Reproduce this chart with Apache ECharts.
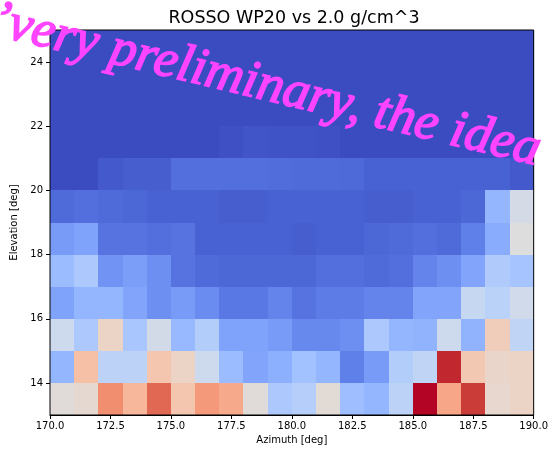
<!DOCTYPE html>
<html>
<head>
<meta charset="utf-8">
<script src="https://cdn.jsdelivr.net/npm/echarts@6/dist/echarts.min.js"></script>
<style>
html,body{margin:0;padding:0;background:#fff;}
#chart{width:551px;height:453px;}
</style>
</head>
<body>
<div id="chart"></div>
<script>
// Bin left edges (deg) and bin size
const azimuthBins = [170,171,172,173,174,175,176,177,178,179,180,181,182,183,184,185,186,187,188,189];
const elevationBins = [13,14,15,16,17,18,19,20,21,22,23,24];
const binWidth = 1;
const binHeight = 1;

// Tick labels
const azimuthTicks = [170, 172.5, 175, 177.5, 180, 182.5, 185, 187.5, 190];
const elevationTicks = [14, 16, 18, 20, 22, 24];

// Normalised cell values (0 = coolest, 1 = warmest), one array per elevation bin
const elev13 = [0.51,0.53,0.78,0.67,0.86,0.62,0.75,0.71,0.51,0.34,0.37,0.52,0.30,0.27,0.39,1.00,0.72,0.94,0.54,0.56];
const elev14 = [0.27,0.64,0.39,0.39,0.62,0.56,0.44,0.29,0.22,0.25,0.31,0.27,0.12,0.19,0.36,0.40,0.97,0.61,0.55,0.56];
const elev15 = [0.44,0.34,0.56,0.33,0.46,0.28,0.36,0.21,0.21,0.19,0.14,0.14,0.16,0.34,0.27,0.26,0.44,0.26,0.59,0.40];
const elev16 = [0.21,0.27,0.27,0.22,0.16,0.19,0.15,0.10,0.10,0.13,0.09,0.11,0.11,0.13,0.13,0.22,0.22,0.42,0.38,0.45];
const elev17 = [0.29,0.34,0.17,0.20,0.16,0.09,0.07,0.06,0.06,0.06,0.06,0.08,0.08,0.07,0.08,0.13,0.16,0.22,0.35,0.32];
const elev18 = [0.19,0.21,0.09,0.09,0.08,0.09,0.05,0.05,0.05,0.05,0.04,0.05,0.05,0.06,0.07,0.08,0.07,0.12,0.24,0.50];
const elev19 = [0.07,0.08,0.07,0.06,0.05,0.05,0.05,0.04,0.04,0.05,0.05,0.05,0.05,0.04,0.04,0.05,0.05,0.06,0.27,0.47];
const elev20 = [0.00,0.00,0.03,0.04,0.04,0.08,0.08,0.08,0.08,0.075,0.07,0.07,0.065,0.05,0.05,0.05,0.05,0.05,0.05,0.03];
const elev21 = [0,0,0,0,0,0,0,0.01,0.02,0.015,0.015,0.01,0,0,0,0,0,0,0,0];
const elev22 = [0,0,0,0,0,0,0,0,0,0,0,0,0,0,0,0,0,0,0,0];
const elev23 = [0,0,0,0,0,0,0,0,0,0,0,0,0,0,0,0,0,0,0,0];
const elev24 = [0,0,0,0,0,0,0,0,0,0,0,0,0,0,0,0,0,0,0,0];

const rows = [elev13, elev14, elev15, elev16, elev17, elev18, elev19, elev20, elev21, elev22, elev23, elev24];

// coolwarm colormap (33 stops)
const coolwarm = [
 [59,76,192],[68,90,204],[77,104,215],[87,117,225],[98,130,234],[108,142,241],[119,154,247],[130,165,251],
 [141,176,254],[152,185,255],[163,194,255],[174,201,253],[184,208,249],[194,213,244],[204,217,238],[213,219,230],
 [221,221,221],[229,216,209],[236,211,197],[241,204,185],[245,196,173],[247,187,160],[247,177,148],[247,166,135],
 [244,154,123],[241,141,111],[236,127,99],[229,112,88],[222,96,77],[213,80,66],[203,62,56],[192,40,47],[180,4,38]
].map(c => 'rgb(' + c.join(',') + ')');

const data = [];
rows.forEach((row, j) => {
  row.forEach((v, i) => {
    data.push([azimuthBins[i], elevationBins[j], v]);
  });
});

const chart = echarts.init(document.getElementById('chart'), null, {renderer: 'canvas'});
const font = 'DejaVu Sans';

chart.setOption({
  animation: false,
  backgroundColor: '#fff',
  grid: {left: 50, right: 13, top: 30, bottom: 38, show: true, borderColor: '#000', borderWidth: 1, backgroundColor: 'transparent', z: 3},
  visualMap: {
    show: false, type: 'continuous', min: 0, max: 1, dimension: 2, seriesIndex: 0,
    inRange: {color: coolwarm}
  },
  xAxis: {
    type: 'value', min: 170, max: 190, interval: 2.5,
    name: 'Azimuth [deg]', nameLocation: 'middle', nameGap: 20,
    nameTextStyle: {color: '#000', fontSize: 10, fontFamily: font},
    axisLine: {show: true, lineStyle: {color: '#000', width: 1}},
    axisTick: {show: true, length: 4, lineStyle: {color: '#000'}},
    axisLabel: {color: '#000', fontSize: 10, fontFamily: font, margin: 6,
      formatter: v => Number(v).toFixed(1), showMinLabel: true, showMaxLabel: true},
    splitLine: {show: false}
  },
  yAxis: {
    type: 'value', min: 13, max: 25,
    name: 'Elevation [deg]', nameLocation: 'middle', nameGap: 24,
    nameTextStyle: {color: '#000', fontSize: 10, fontFamily: font},
    axisLine: {show: true, lineStyle: {color: '#000', width: 1}},
    axisTick: {show: true, length: 4, lineStyle: {color: '#000'}, customValues: elevationTicks},
    axisLabel: {color: '#000', fontSize: 10, fontFamily: font, margin: 7, customValues: elevationTicks},
    splitLine: {show: false}
  },
  series: [{
    type: 'custom',
    clip: true,
    data: data,
    encode: {x: 0, y: 1},
    renderItem: function (params, api) {
      const x = api.value(0), y = api.value(1);
      const p0 = api.coord([x, y]);
      const p1 = api.coord([x + binWidth, y + binHeight]);
      const x0 = Math.round(p0[0]), x1 = Math.round(p1[0]);
      const y0 = Math.round(p0[1]), y1 = Math.round(p1[1]);
      return {
        type: 'rect',
        shape: {x: x0, y: y1, width: x1 - x0, height: y0 - y1},
        style: {fill: api.visual('color')}
      };
    }
  }],
  graphic: [
    {
      type: 'text', x: 294, y: 18, z: 100,
      style: {text: 'ROSSO WP20 vs 2.0 g/cm^3', fill: '#000', font: '17.5px "DejaVu Sans"', align: 'center', verticalAlign: 'middle'}
    },
    {
      type: 'text', x: -8, y: 20, rotation: -0.236, z: 200,
      style: {text: '\u2019very preliminary, the idea', fill: '#ff44ff', stroke: '#ff44ff', lineWidth: 1.6,
        font: 'italic 53px "Liberation Serif"', align: 'left', verticalAlign: 'middle'}
    }
  ]
});
</script>
</body>
</html>
